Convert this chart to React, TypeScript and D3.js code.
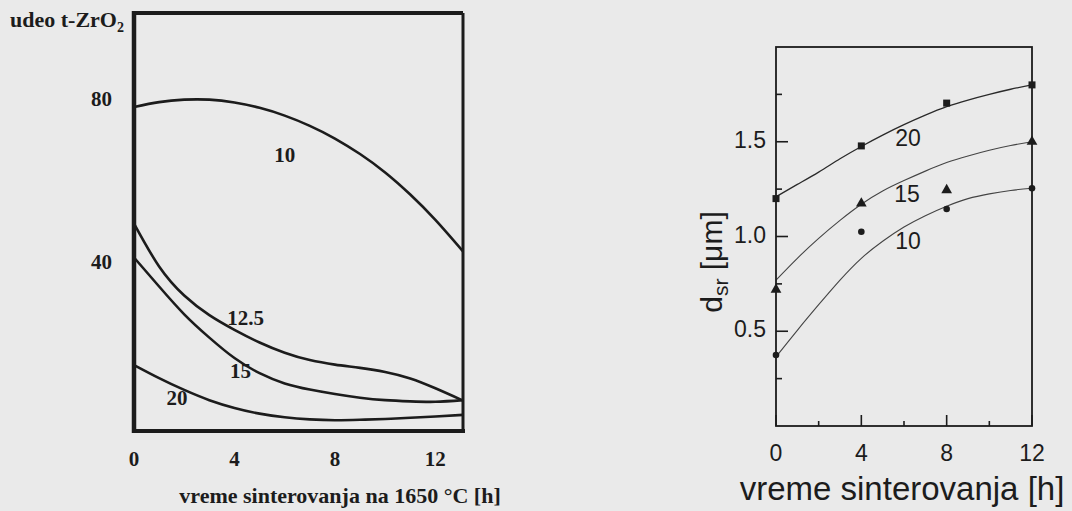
import React from "react";
import * as d3 from "d3";

// ---------- Left panel data (udeo t-ZrO2 vs time) ----------
const leftTimes = [0, 1, 2, 3, 4, 5, 6, 7, 8, 9, 10, 11, 12, 13.1];
const leftSeries10 = [79, 80.2, 80.8, 80.8, 80.1, 78.8, 76.9, 74.4, 71.3, 67.5, 63.0, 57.6, 51.4, 43.7];
const leftSeries125 = [50.5, 40, 32.9, 28.1, 24.5, 21.4, 18.9, 17.1, 16.0, 15.2, 14.2, 12.6, 10.2, 7.2];
const leftSeries15 = [42.2, 35.1, 28.3, 22.6, 17.6, 13.9, 11.4, 9.9, 8.8, 7.9, 7.3, 7.0, 6.9, 7.3];
const leftSeries20 = [15.9, 12.7, 9.8, 7.3, 5.4, 4.0, 3.1, 2.6, 2.4, 2.5, 2.7, 3.0, 3.3, 3.7];
const leftXTicks = [0, 4, 8, 12];
const leftYTicks = [40, 80];
const leftCurveLabels = ["10", "12.5", "15", "20"];
const leftLabelX = [6.0, 4.44, 4.24, 1.71];
const leftLabelY = [66.8, 26.9, 13.9, 7.3];

// ---------- Right panel data (d_sr vs time) ----------
const rightPointTimes = [0, 4, 8, 12];
const rightPoints20 = [1.2, 1.478, 1.704, 1.8];
const rightPoints15 = [0.72, 1.175, 1.245, 1.5];
const rightPoints10 = [0.375, 1.025, 1.145, 1.255];
const rightFitTimes = [0, 1, 2, 3, 4, 5, 6, 7, 8, 9, 10, 11, 12];
const rightFit20 = [1.21, 1.275, 1.34, 1.41, 1.475, 1.535, 1.59, 1.64, 1.685, 1.72, 1.75, 1.777, 1.8];
const rightFit15 = [0.77, 0.885, 0.99, 1.085, 1.17, 1.24, 1.295, 1.345, 1.39, 1.425, 1.455, 1.48, 1.5];
const rightFit10 = [0.365, 0.505, 0.64, 0.77, 0.885, 0.975, 1.05, 1.11, 1.16, 1.2, 1.225, 1.243, 1.255];
const rightXTicks = [0, 4, 8, 12];
const rightXMinor = [2, 6, 10];
const rightYTicks = [0.5, 1.0, 1.5];
const rightYMinor = [0.25, 0.75, 1.25, 1.75];
const rightCurveLabels = ["20", "15", "10"];
const rightLabelX = [6.19, 6.14, 6.19];
const rightLabelY = [1.51, 1.214, 0.966];

const INK = "#1c1c1c";
const SERIF = "'Liberation Serif', 'Times New Roman', Times, serif";
const SANS = "'Liberation Sans', Arial, Helvetica, sans-serif";

export default function App() {
  const W = 1072;
  const H = 511;

  // left scales
  const xL = d3.scaleLinear().domain([0, 13.1]).range([134, 463]);
  const yL = d3.scaleLinear().domain([0, 102]).range([430, 13]);
  const lineL = d3
    .line<number>()
    .x((_, i) => xL(leftTimes[i]))
    .y((d) => yL(d))
    .curve(d3.curveNatural);
  const leftAll = [leftSeries10, leftSeries125, leftSeries15, leftSeries20];

  // right scales
  const xR = d3.scaleLinear().domain([0, 12]).range([776, 1032]);
  const yR = d3.scaleLinear().domain([0, 2]).range([426, 47]);
  const lineR = d3
    .line<number>()
    .x((_, i) => xR(rightFitTimes[i]))
    .y((d) => yR(d))
    .curve(d3.curveNatural);
  const fmt = d3.format(".1f");

  const tri = d3.symbol().type(d3.symbolTriangle).size(50)() as string;

  return (
    <svg
      width={W}
      height={H}
      viewBox={`0 0 ${W} ${H}`}
      style={{ position: "absolute", left: 0, top: 0, display: "block" }}
    >
      <rect x={0} y={0} width={W} height={H} fill="#eaeaea" />

      {/* ---------------- LEFT PANEL ---------------- */}
      <g fill={INK} fontFamily={SERIF} fontWeight="bold">
        <text x={10} y={27} fontSize={22}>
          udeo t-ZrO<tspan fontSize={14} dy={5}>2</tspan>
        </text>
        {leftYTicks.map((t) => (
          <text key={t} x={112} y={yL(t) - 2} fontSize={21} textAnchor="end" dominantBaseline="middle">
            {t}
          </text>
        ))}
        {leftXTicks.map((t) => (
          <text key={t} x={xL(t)} y={466} fontSize={21} textAnchor="middle">
            {t}
          </text>
        ))}
        <text x={340} y={503} fontSize={22} textAnchor="middle">
          vreme sinterovanja na 1650 °C [h]
        </text>
        {leftCurveLabels.map((l, i) => (
          <text
            key={l}
            x={xL(leftLabelX[i])}
            y={yL(leftLabelY[i])}
            fontSize={21}
            textAnchor="middle"
            dominantBaseline="middle"
          >
            {l}
          </text>
        ))}
      </g>
      {leftAll.map((s, i) => (
        <path key={i} d={lineL(s) as string} fill="none" stroke={INK} strokeWidth={2.6} />
      ))}
      {/* frame */}
      <line x1={134} y1={13} x2={463} y2={13} stroke={INK} strokeWidth={4} />
      <line x1={463} y1={13} x2={463} y2={431} stroke={INK} strokeWidth={3} />
      <line x1={132} y1={431} x2={465} y2={431} stroke={INK} strokeWidth={4} />
      <line x1={134} y1={11} x2={134} y2={433} stroke={INK} strokeWidth={4.5} />

      {/* ---------------- RIGHT PANEL ---------------- */}
      {[rightFit20, rightFit15, rightFit10].map((s, i) => (
        <path
          key={i}
          d={lineR(s) as string}
          fill="none"
          stroke={i === 0 ? "#2a2a2a" : "#444"}
          strokeWidth={i === 0 ? 1.3 : 1.1}
        />
      ))}
      <rect
        x={xR(0)}
        y={yR(2)}
        width={xR(12) - xR(0)}
        height={yR(0) - yR(2)}
        fill="none"
        stroke={INK}
        strokeWidth={1.8}
      />
      {rightYTicks.map((t) => (
        <line key={t} x1={xR(0)} x2={xR(0) + 12} y1={yR(t)} y2={yR(t)} stroke={INK} strokeWidth={1.6} />
      ))}
      {rightYMinor.map((t) => (
        <line key={t} x1={xR(0)} x2={xR(0) + 6} y1={yR(t)} y2={yR(t)} stroke={INK} strokeWidth={1.6} />
      ))}
      {rightXTicks.map((t) => (
        <line key={t} x1={xR(t)} x2={xR(t)} y1={yR(0)} y2={yR(0) - 11} stroke={INK} strokeWidth={1.6} />
      ))}
      {rightXMinor.map((t) => (
        <line key={t} x1={xR(t)} x2={xR(t)} y1={yR(0)} y2={yR(0) - 5} stroke={INK} strokeWidth={1.6} />
      ))}
      {rightPoints20.map((v, i) => (
        <rect key={"s" + i} x={xR(rightPointTimes[i]) - 3.5} y={yR(v) - 3.5} width={7} height={7} fill={INK} />
      ))}
      {rightPoints15.map((v, i) => (
        <path key={"t" + i} d={tri} transform={`translate(${xR(rightPointTimes[i])},${yR(v)})`} fill={INK} />
      ))}
      {rightPoints10.map((v, i) => (
        <circle key={"c" + i} cx={xR(rightPointTimes[i])} cy={yR(v)} r={3.3} fill={INK} />
      ))}
      <g fill={INK} fontFamily={SANS}>
        {rightYTicks.map((t) => (
          <text key={t} x={766} y={yR(t)} fontSize={23} textAnchor="end" dominantBaseline="middle">
            {fmt(t)}
          </text>
        ))}
        {rightXTicks.map((t) => (
          <text key={t} x={xR(t)} y={461} fontSize={23} textAnchor="middle">
            {t}
          </text>
        ))}
        {rightCurveLabels.map((l, i) => (
          <text
            key={l}
            x={xR(rightLabelX[i])}
            y={yR(rightLabelY[i])}
            fontSize={23}
            textAnchor="middle"
            dominantBaseline="middle"
          >
            {l}
          </text>
        ))}
        <text x={902} y={500} fontSize={33} textAnchor="middle">
          vreme sinterovanja [h]
        </text>
        <text transform="translate(722,262) rotate(-90)" fontSize={30} textAnchor="middle">
          d<tspan fontSize={21} dy={6}>sr</tspan>
          <tspan dy={-6}> [μm]</tspan>
        </text>
      </g>
    </svg>
  );
}
